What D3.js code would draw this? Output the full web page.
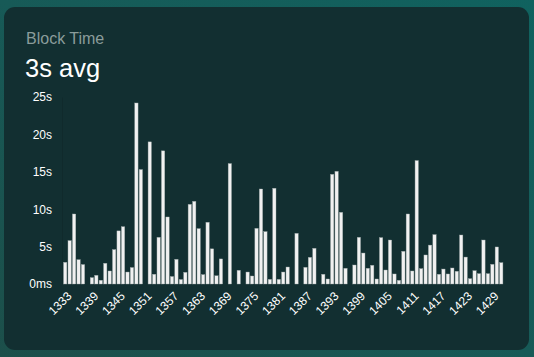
<!DOCTYPE html>
<html><head><meta charset="utf-8">
<script src="https://cdn.jsdelivr.net/npm/d3@7"></script>
<style>
html,body{margin:0;padding:0;width:534px;height:357px;overflow:hidden;background:#155756;}
svg{display:block;font-family:"Liberation Sans",Arial,sans-serif;}
</style></head>
<body>
<script>
const title = "Block Time";
const subtitle = "3s avg";
const firstBlock = 1333;
// block time in seconds per block (0 = no bar)
const blockTimes = [
  2.9, 5.8, 9.36, 3.25, 2.6, 0, 0.85, 1.16, 0.5, 2.77,
  1.74, 4.6, 7.1, 7.66, 1.6, 2.2, 24.2, 15.3, 0, 19.0,
  1.3, 6.24, 17.8, 8.96, 1.0, 3.3, 0.6, 1.56, 10.65, 11.05,
  7.4, 1.25, 8.25, 4.7, 1.1, 3.35, 0, 16.1, 0, 1.83,
  0, 1.6, 1.07, 7.44, 12.7, 7.0, 0.62, 12.8, 0.62, 1.6,
  2.27, 0, 6.77, 0, 2.23, 3.56, 4.77, 0, 1.3, 0.67,
  14.66, 15.06, 9.58, 2.1, 0, 2.54, 6.24, 4.14, 2.1, 2.5,
  0.67, 6.2, 1.87, 5.88, 1.34, 0.49, 4.37, 9.36, 1.74, 16.5,
  2.05, 3.88, 5.2, 6.6, 1.3, 2.0, 1.34, 2.14, 1.7, 6.55,
  3.6, 0.71, 1.78, 1.38, 5.88, 1.38, 2.63, 4.95, 2.85
];
const blocks = blockTimes.map((_, i) => firstBlock + i);
const yTicks = [0, 5, 10, 15, 20, 25];
const yTickLabels = ["0ms", "5s", "10s", "15s", "20s", "25s"];
const xTickLabels = blocks.filter((b, i) => i % 6 === 0);

const W = 534, H = 357;
const svg = d3.select("body").append("svg").attr("width", W).attr("height", H);
const defs = svg.append("defs");
const g1 = defs.append("linearGradient").attr("id","bg").attr("x1","0").attr("y1","1").attr("x2","1").attr("y2","0");
g1.append("stop").attr("offset","0").attr("stop-color","#1c4f4a");
g1.append("stop").attr("offset","0.5").attr("stop-color","#175a57");
g1.append("stop").attr("offset","1").attr("stop-color","#10625f");
svg.append("rect").attr("width",W).attr("height",H).attr("fill","url(#bg)");
svg.append("rect").attr("x",4).attr("y",7).attr("width",525).attr("height",343)
  .attr("rx",11).attr("fill","#122f31");

svg.append("text").attr("x",26).attr("y",44).attr("fill","#8a9c9b")
  .attr("font-size",16).text(title);
svg.append("text").attr("x",25).attr("y",77).attr("fill","#ffffff")
  .attr("font-size",25.5).text(subtitle);

const x = d3.scaleBand().domain(blocks).range([63, 63 + 4.449 * blocks.length]).paddingInner(0.25).paddingOuter(0.12);
const y = d3.scaleLinear().domain([0, 25]).range([284, 97]);

const yAxis = svg.append("g").attr("transform","translate(62,0)")
  .call(d3.axisLeft(y).tickValues(yTicks).tickFormat((d,i)=>yTickLabels[i]).tickSize(0).tickPadding(10));
yAxis.select(".domain").attr("stroke","rgba(0,0,0,0.1)");
yAxis.selectAll("text").attr("fill","#ffffff").attr("font-size",12)
  .attr("font-family","'Liberation Sans',Arial,sans-serif");

svg.append("g").selectAll("rect").data(blockTimes.map((v,i)=>({b:blocks[i],v})).filter(d=>d.v>0))
  .join("rect")
  .attr("x", d => x(d.b)).attr("width", x.bandwidth())
  .attr("y", d => y(d.v)).attr("height", d => y(0) - y(d.v))
  .attr("fill", "#f1f1f1").attr("stroke","#9aa5a5").attr("stroke-width",0.4);

const xAxis = svg.append("g").attr("transform","translate(0,288)")
  .call(d3.axisBottom(x).tickValues(xTickLabels).tickSize(0).tickPadding(6));
xAxis.select(".domain").remove();
xAxis.selectAll("text").attr("fill","#ffffff").attr("font-size",12)
  .attr("font-family","'Liberation Sans',Arial,sans-serif")
  .attr("text-anchor","end").attr("dx","-0.1em").attr("dy","0.45em")
  .attr("transform","rotate(-45)");
</script>
</body></html>
